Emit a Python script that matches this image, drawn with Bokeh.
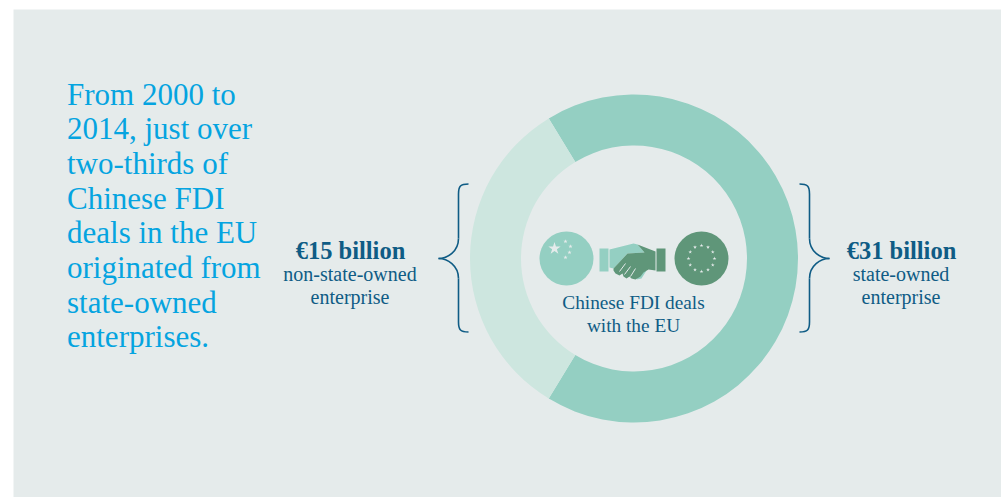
import math
from bokeh.plotting import figure
from bokeh.models import Range1d
from bokeh.core.properties import value
from bokeh.embed import file_html
from bokeh.resources import INLINE

# ---- data
segments = ["state-owned enterprise", "non-state-owned enterprise"]
amounts = [31, 15]
segment_colors = ["#94cfc2", "#cde6df"]
headline = ["From 2000 to", "2014, just over", "two-thirds of", "Chinese FDI",
            "deals in the EU", "originated from", "state-owned", "enterprises."]
center_label = ["Chinese FDI deals", "with the EU"]
left_label = ["€15 billion", "non-state-owned", "enterprise"]
right_label = ["€31 billion", "state-owned", "enterprise"]

BG = "#e5ebeb"
BLUE = "#05a4e0"
NAVY = "#0f5c85"
SERIF = "Liberation Serif"
W, H = 1001, 497

def Y(sy):
    return 497 - sy

p = figure(width=W, height=H, output_backend="svg", toolbar_location=None,
           x_range=Range1d(0, 1001), y_range=Range1d(0, 497), min_border=0,
           border_fill_color="#ffffff", background_fill_color="#ffffff")
p.axis.visible = False
p.grid.visible = False
p.outline_line_color = None

# panel
p.quad(left=[13], right=[1001], top=[Y(9)], bottom=[0], fill_color=BG, line_color=None)

# donut
cx, cy = 633.5, Y(258)
total = sum(amounts)
light = amounts[1] / total * 2 * math.pi
a0 = math.pi - light / 2
a1 = math.pi + light / 2
p.annular_wedge(x=[cx, cx], y=[cy, cy], inner_radius=113, outer_radius=164,
                inner_radius_units="screen", outer_radius_units="screen",
                start_angle=[a1, a0], end_angle=[a0 + 2 * math.pi, a1],
                fill_color=segment_colors, line_color=None)

# headline
for i, t in enumerate(headline):
    p.text(x=[66.5], y=[Y(93.5 + i * 34.7)], text=[t], text_font=value(SERIF),
           text_font_size="31px", text_color=BLUE, text_align="left", text_baseline="middle")

def label(x, lines):
    p.text(x=[x], y=[Y(250)], text=[lines[0]], text_font=value(SERIF), text_font_style="bold",
           text_font_size="24.5px", text_color=NAVY, text_align="center", text_baseline="middle")
    for j, t in enumerate(lines[1:]):
        p.text(x=[x - 0.5], y=[Y(273 + j * 23)], text=[t], text_font=value(SERIF),
               text_font_size="20px", text_color=NAVY, text_align="center", text_baseline="middle")

label(350, left_label)
label(901, right_label)
for j, t in enumerate(center_label):
    p.text(x=[633], y=[Y(302 + j * 23)], text=[t], text_font=value(SERIF),
           text_font_size="19.3px", text_color=NAVY, text_align="center", text_baseline="middle")

# braces
def brace(tipx, sign):
    xs = tipx - sign * 20   # stem x
    xe = xs - sign * 10     # end x
    top, mid, bot = 183.5, 258, 331.5
    segs = [
        ((xe, top), (xs, top + 10), (xe + sign * 8, top), (xs, top + 2)),
        ((xs, top + 10), (xs, mid - 20), (xs, top + 30), (xs, mid - 40)),
        ((xs, mid - 20), (tipx, mid), (xs, mid - 7), (tipx - sign * 9, mid)),
        ((tipx, mid), (xs, mid + 20), (tipx - sign * 9, mid), (xs, mid + 7)),
        ((xs, mid + 20), (xs, bot - 10), (xs, mid + 40), (xs, bot - 30)),
        ((xs, bot - 10), (xe, bot), (xs, bot - 2), (xe + sign * 8, bot)),
    ]
    for s in segs:
        p.bezier(x0=[s[0][0]], y0=[Y(s[0][1])], x1=[s[1][0]], y1=[Y(s[1][1])],
                 cx0=[s[2][0]], cy0=[Y(s[2][1])], cx1=[s[3][0]], cy1=[Y(s[3][1])],
                 line_color=NAVY, line_width=1.6)

brace(829, 1)
brace(438, -1)

# flags
p.scatter(x=[566], y=[Y(258)], size=54, marker="circle", fill_color="#94cfc2", line_color=None)
p.scatter(x=[701], y=[Y(258)], size=54, marker="circle", fill_color="#5f9679", line_color=None)
p.scatter(x=[554], y=[Y(248)], size=13, marker="star", fill_color=BG, line_color=None)
p.scatter(x=[565, 570, 569, 565], y=[Y(241), Y(246), Y(252), Y(257)], size=4.5,
          marker="star", fill_color=BG, line_color=None)
eu_r = 13
p.scatter(x=[701 + eu_r * math.cos(k * math.pi / 6) for k in range(12)],
          y=[Y(258) + eu_r * math.sin(k * math.pi / 6) for k in range(12)],
          size=4, marker="star", fill_color=BG, line_color=None)

# handshake
p.quad(left=[599], right=[608], top=[Y(248)], bottom=[Y(271)], fill_color="#94cfc2", line_color=None)
p.quad(left=[656], right=[665], top=[Y(248)], bottom=[Y(271)], fill_color="#5f9679", line_color=None)
lh = [(609, 249), (633, 243), (637, 244), (644, 252), (627, 253), (613, 268), (609, 267)]
p.patch([a for a, _ in lh], [Y(b) for _, b in lh], fill_color="#94cfc2", line_color=None)
lb = [(640, 272), (646, 270), (641, 278), (636, 279)]
p.patch([a for a, _ in lb], [Y(b) for _, b in lb], fill_color="#94cfc2", line_color=None)
dh = [(637, 244), (655, 251), (655, 270), (648, 269), (643, 272), (640, 276), (635, 279),
      (631, 278), (629, 276), (626, 278), (623, 276), (622, 273), (619, 275), (615, 273),
      (613, 270), (613, 268), (627, 253), (644, 252)]
p.patch([a for a, _ in dh], [Y(b) for _, b in dh], fill_color="#5f9679", line_color=None)
p.segment(x0=[625, 630, 635], y0=[Y(263), Y(266), Y(268)], x1=[619, 624, 630], y1=[Y(271), Y(274), Y(276)],
          line_color=BG, line_width=1)

open("out.html", "w").write(file_html(p, INLINE))
